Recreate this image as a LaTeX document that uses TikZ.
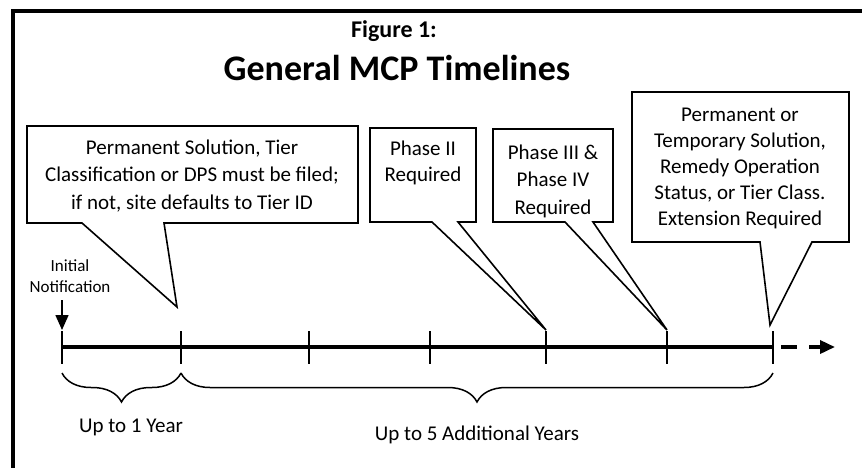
\documentclass[tikz,border=0pt]{standalone}
\usepackage{fontspec}
\setmainfont{Carlito}
\usetikzlibrary{arrows.meta,decorations.pathreplacing}
\tikzset{
  frame/.style={draw=black, line width=4pt},
  callout/.style={draw=black, fill=white, line width=1.6pt, line join=miter},
  txt/.style={align=center, inner sep=0pt, font=\fontsize{21}{26}\selectfont},
  wide/.style={font=\fontsize{21}{27.5}\selectfont},
  small/.style={align=center, inner sep=0pt, font=\fontsize{17}{21}\selectfont},
  axis/.style={draw=black, line width=3.5pt},
  tickmark/.style={draw=black, line width=1.5pt},
  brace/.style={draw=black, line width=1.5pt, decorate, decoration={brace, amplitude=29pt}},
}

\begin{document}
\begin{tikzpicture}[x=1pt, y=-1pt]
  \useasboundingbox (0,0) rectangle (862,467);
  \begin{scope}
    \clip (0,0) rectangle (862,467);
    \draw[frame] (13,11) rectangle (880,490);
  \end{scope}

  % titles
  \node[inner sep=0pt, font=\fontsize{24}{28}\selectfont\bfseries] (fig) at (394,31) {Figure 1:};
  \node[inner sep=0pt, font=\fontsize{36}{40}\selectfont\bfseries] (title) at (397,68) {General MCP Timelines};

  % timeline
  \foreach \x [count=\i] in {62,181,309,430,546,667,773} {
    \coordinate (t\i) at (\x,347);
    \draw[tickmark] (\x,331) -- (\x,364);
  }
  \draw[axis] (t1) -- (t7);
  \coordinate (fut) at (835,347);
  \draw[axis, dash pattern=on 16pt off 12pt, -{Triangle[length=15pt,width=13pt]}] ([xshift=8pt]t7) -- (fut);

  % pointer tips
  \coordinate (tipA) at (177,307);
  \coordinate (tipB) at (546,330);
  \coordinate (tipC) at (667,330);
  \coordinate (tipD) at (770,325);

  % callouts
  \draw[callout] (27,126) -- (358,126) -- (358,223) -- (164,223) -- (tipA) -- (82,223) -- (27,223) -- cycle;
  \node[txt, wide] (perm) at (192,176) {Permanent Solution, Tier\\Classification or DPS must be filed;\\if not, site defaults to Tier ID};

  \draw[callout] (370,128) -- (476,128) -- (476,222) -- (458,222) -- (tipB) -- (432,222) -- (370,222) -- cycle;
  \node[txt] (ph2) at (423,163) {Phase II\\Required};

  \draw[callout] (493,129) -- (613,129) -- (613,222) -- (593,222) -- (tipC) -- (565,222) -- (493,222) -- cycle;
  \begin{scope}
    \clip (493,129) rectangle (613,221);
    \node[txt, wide] (ph34) at (553,181) {Phase III \&\\Phase IV\\Required};
  \end{scope}

  \draw[callout] (632,92) -- (849,92) -- (849,242) -- (812,242) -- (tipD) -- (760,242) -- (632,242) -- cycle;
  \node[txt] (ext) at (740,168) {Permanent or\\Temporary Solution,\\Remedy Operation\\Status, or Tier Class.\\Extension Required};

  % initial notification
  \node[small] (init) at (70,276) {Initial\\Notification};
  \coordinate (arrtop) at (62,300);
  \coordinate (arrtip) at (62,330);
  \draw[line width=1.6pt, -{Triangle[length=15pt,width=13pt]}] (arrtop) -- (arrtip);

  % braces
  \draw[brace] (181,373) -- (62,373);
  \draw[brace] (773,373) -- (181,373);
  \node[txt] (yr1) at (131,427) {Up to 1 Year};
  \node[txt] (yr5) at (477,435) {Up to 5 Additional Years};
\end{tikzpicture}
\end{document}
